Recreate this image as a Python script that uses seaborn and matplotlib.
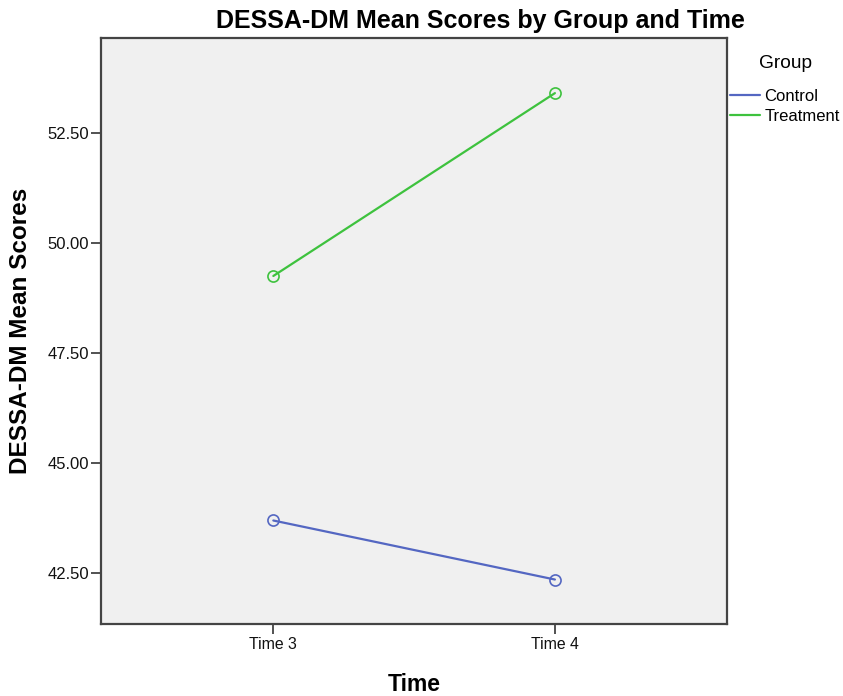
import pandas as pd
import matplotlib
matplotlib.use("Agg")
import matplotlib.pyplot as plt
import matplotlib.ticker as mticker
import seaborn as sns

# data
times = ["Time 3", "Time 4"]
groups = ["Control", "Treatment"]
control_means = [43.70, 42.36]
treatment_means = [49.25, 53.40]
y_ticks = [42.5, 45.0, 47.5, 50.0, 52.5]

df = pd.DataFrame({
    "Time": times + times,
    "Group": ["Control"] * 2 + ["Treatment"] * 2,
    "Score": control_means + treatment_means,
})

sns.set_style("white")
plt.rcParams["font.family"] = ["Liberation Sans", "DejaVu Sans"]
plt.rcParams["text.color"] = "black"
plt.rcParams["axes.labelcolor"] = "black"

palette = {"Control": "#5467c2", "Treatment": "#3ec23e"}

fig = plt.figure(figsize=(8.43, 6.96), dpi=100)
ax = fig.add_axes([0.1195, 0.1034, 0.7425, 0.8413])
ax.set_facecolor("#f0f0f0")

sns.lineplot(data=df, x="Time", y="Score", hue="Group", hue_order=groups,
             palette=palette, marker="o", markersize=8,
             markerfacecolor="none", linewidth=1.6, ax=ax)
for line in ax.lines:
    line.set_markeredgecolor(line.get_color())
    line.set_markeredgewidth(1.2)

ax.set_xlim(-0.613, 1.61)
ax.set_ylim(41.35, 54.64)
ax.set_yticks(y_ticks)
ax.yaxis.set_major_formatter(mticker.FormatStrFormatter("%.2f"))

for s in ax.spines.values():
    s.set_visible(True)
    s.set_color("#444444")
    s.set_linewidth(1.6)
ax.tick_params(axis="both", direction="out", length=7, width=1.2,
               color="#333333", labelcolor="#111111", left=True, bottom=True)
ax.tick_params(axis="y", labelsize=12, pad=1.5)
ax.tick_params(axis="x", labelsize=11.4, pad=2.5)

ax.set_title("DESSA-DM Mean Scores by Group and Time", fontsize=18,
             fontweight="bold", pad=7.5, x=0.606)
ax.set_xlabel("Time", fontsize=16.5, fontweight="bold")
ax.set_ylabel("DESSA-DM Mean Scores", fontsize=17.5, fontweight="bold")
ax.xaxis.set_label_coords(0.5005, -0.0837)
ax.yaxis.set_label_coords(-0.11, 0.5)

leg = ax.legend(title="Group", loc="upper left", bbox_to_anchor=(1.006, 0.972),
                frameon=False, fontsize=12, title_fontsize=13.8,
                handlelength=1.75, handletextpad=0.3, borderaxespad=0,
                borderpad=0, labelspacing=0.3)
for h in leg.legend_handles:
    h.set_marker("")
leg._legend_box.sep = 12

fig.savefig("out.png", dpi=100)
